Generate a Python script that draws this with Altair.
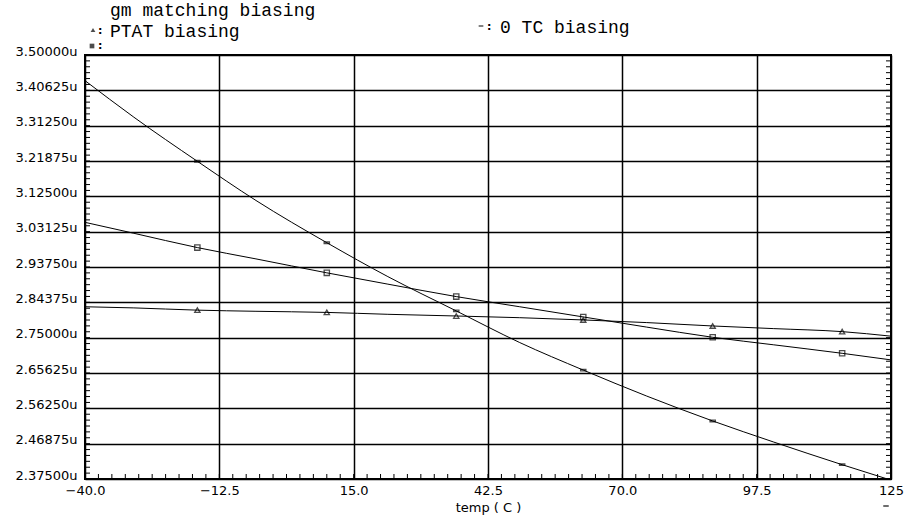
import altair as alt
import pandas as pd

# ---- data ----
temps = [-40, -30, -17, -5, 9.5, 22, 36, 49, 62, 75, 88.5, 101, 115, 125]
gm_matching = [2.832, 2.829, 2.823, 2.820, 2.817, 2.812, 2.8075, 2.803, 2.797, 2.790, 2.781, 2.774, 2.766, 2.754]
ptat = [3.056, 3.027, 2.989, 2.959, 2.922, 2.892, 2.859, 2.832, 2.805, 2.778, 2.751, 2.731, 2.7085, 2.691]
zero_tc = [3.432, 3.335, 3.218, 3.114, 3.002, 2.912, 2.821, 2.737, 2.664, 2.595, 2.529, 2.473, 2.413, 2.372]
marker_temps = [-17, 9.5, 36, 62, 88.5, 115]
series_names = ["gm matching biasing", "PTAT biasing", "0 TC biasing"]

x_ticks = [-40, -12.5, 15, 42.5, 70, 97.5, 125]
y_ticks = [2.375, 2.46875, 2.5625, 2.65625, 2.75, 2.84375, 2.9375, 3.03125,
           3.125, 3.21875, 3.3125, 3.40625, 3.5]
x_minor = [-40 + 2.75 * i for i in range(61)]
y_minor = [2.375 + 0.015625 * i for i in range(73)]

# ---- build tables ----
rows = []
for name, vals in zip(series_names, [gm_matching, ptat, zero_tc]):
    for t, v in zip(temps, vals):
        rows.append({"temp": t, "value": v, "series": name, "marker": t in marker_temps})
df = pd.DataFrame(rows)

W, H = 806, 424
LABEL_FONT = "DejaVu Sans"
LEG_FONT = "Liberation Mono"

x_scale = alt.Scale(domain=[-40, 125], nice=False, zero=False)
y_scale = alt.Scale(domain=[2.375, 3.5], nice=False, zero=False)

x_axis = alt.Axis(
    values=x_ticks, tickCount=30, grid=True, gridColor="black", gridWidth=1.5, gridOpacity=1,
    ticks=False, domain=False, labelExpr="datum.value == 125 ? '125' : format(datum.value, '.1f')",
    labelFont=LABEL_FONT, labelFontSize=13, labelColor="black", labelPadding=5,
    labelBaseline="top", labelOverlap=False, labelBound=False, labelFlush=False,
    title="temp ( C )", titleFont=LABEL_FONT, titleFontSize=13, titleFontWeight="normal",
    titleColor="black", titleY=32, titleBaseline="alphabetic", orient="bottom",
)
y_axis = alt.Axis(
    values=y_ticks, tickCount=30, grid=True, gridColor="black", gridWidth=1.5, gridOpacity=1,
    ticks=False, domain=False, labelExpr="format(datum.value, '.5f') + 'u'",
    labelFont=LABEL_FONT, labelFontSize=13, labelColor="black", labelPadding=8,
    labelBaseline="alphabetic", labelOverlap=False, labelBound=False, labelFlush=False,
    title=None, orient="left",
)

lines = alt.Chart(df).mark_line(color="black", strokeWidth=1, interpolate="monotone", clip=True).encode(
    x=alt.X("temp:Q", scale=x_scale, axis=x_axis),
    y=alt.Y("value:Q", scale=y_scale, axis=y_axis),
    detail="series:N",
)

dash_path = "M-1,-0.3L1,-0.3L1,0.3L-1,0.3Z"
points = alt.Chart(df).transform_filter("datum.marker").mark_point(
    color="black", filled=False, strokeWidth=1.3, size=28, clip=True
).encode(
    x=alt.X("temp:Q", scale=x_scale),
    y=alt.Y("value:Q", scale=y_scale),
    shape=alt.Shape("series:N", scale=alt.Scale(domain=series_names,
                    range=["triangle-up", "square", dash_path]), legend=None),
)

xm = pd.DataFrame({"temp": x_minor})
ym = pd.DataFrame({"value": y_minor})
minor_x = alt.Chart(xm).mark_rule(color="black", strokeWidth=1).encode(
    x=alt.X("temp:Q", scale=x_scale), y=alt.value(H), y2=alt.value(H - 5))
minor_yl = alt.Chart(ym).mark_rule(color="black", strokeWidth=1).encode(
    y=alt.Y("value:Q", scale=y_scale), x=alt.value(0), x2=alt.value(5))
minor_yr = alt.Chart(ym).mark_rule(color="black", strokeWidth=1).encode(
    y=alt.Y("value:Q", scale=y_scale), x=alt.value(W), x2=alt.value(W - 5))

# ---- legend (text + symbols above plot) ----
def leg_text(label, x, y):
    return alt.Chart(pd.DataFrame({"label": [label]})).mark_text(
        font=LEG_FONT, fontSize=18, color="black", align="left", baseline="alphabetic"
    ).encode(text="label:N", x=alt.value(x), y=alt.value(y))

def leg_sym(shape, x, y, size=22):
    return alt.Chart(pd.DataFrame({"s": [shape]})).mark_point(
        color="black", filled=True, size=size, shape=shape
    ).encode(x=alt.value(x), y=alt.value(y))

def colon(x, y):
    return alt.Chart(pd.DataFrame({"c": [":"]})).mark_text(
        font=LABEL_FONT, fontSize=11, fontWeight="bold", color="black", align="left", baseline="alphabetic"
    ).encode(text="c:N", x=alt.value(x), y=alt.value(y))

legend = [
    leg_text(series_names[0], 25, -39),
    leg_text(series_names[1], 25, -18),
    leg_text(series_names[2], 415, -22),
    leg_sym("triangle-up", 8, -25), colon(13, -21),
    leg_sym("square", 7, -9), colon(13, -6),
    leg_sym(dash_path, 396, -29), colon(402, -25),
    leg_sym(dash_path, W - 5, H + 27, size=30),
]

chart = alt.layer(lines, points, minor_x, minor_yl, minor_yr, *legend).properties(
    width=W, height=H,
    autosize=alt.AutoSizeParams(type="none"),
    padding={"left": 85, "top": 55, "right": 16, "bottom": 40},
    background="white",
).configure_view(stroke="black", strokeWidth=2)

chart.save("out.html", embed_options={"renderer": "svg", "actions": False})
